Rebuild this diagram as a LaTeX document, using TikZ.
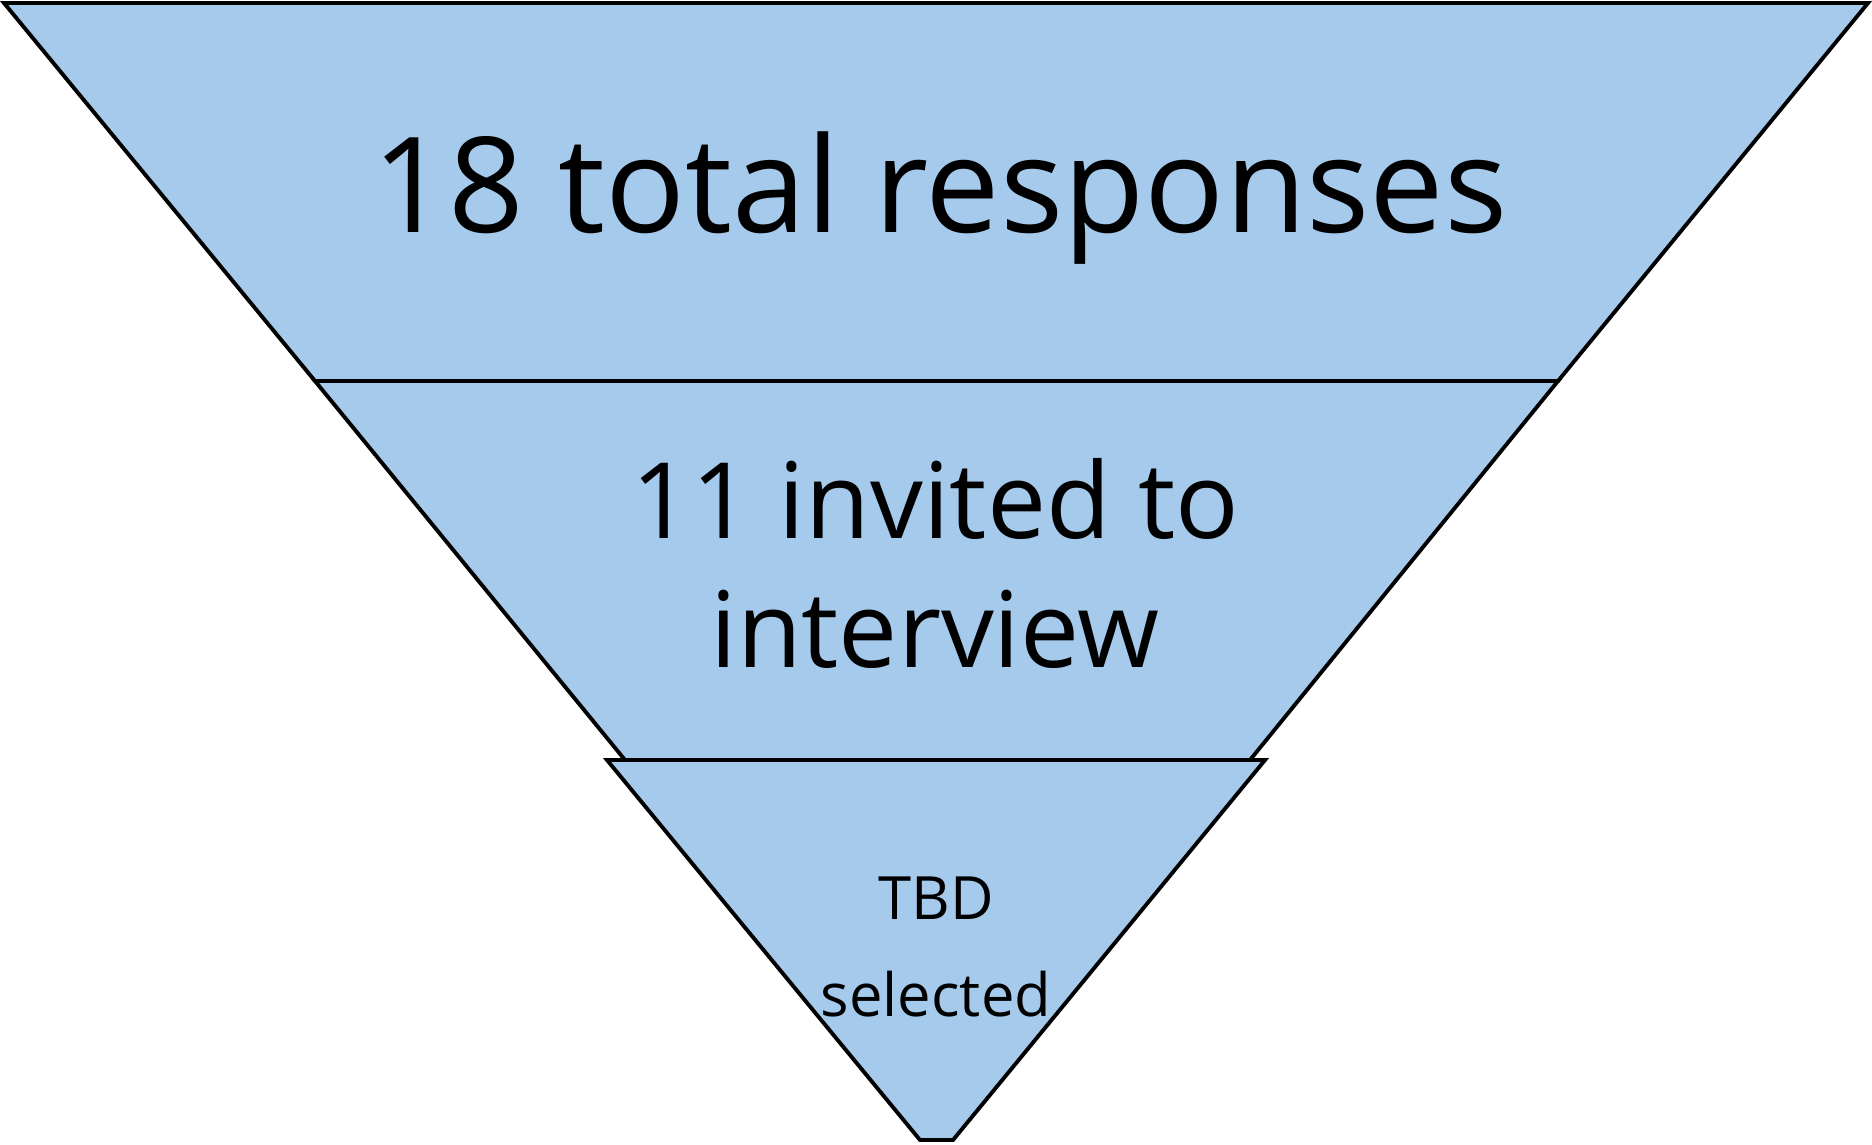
\documentclass[tikz,border=0pt]{standalone}
\usepackage{fontspec}
\setmainfont{Open Sans}
\usetikzlibrary{positioning}
\definecolor{funnelblue}{HTML}{A6CAEC}

\begin{document}
\begin{tikzpicture}[
    x=0.02cm, y=-0.02cm,
    stage/.style={draw=black, line width=2.2pt, fill=funnelblue, line join=miter},
    stagetext/.style={font=#1, align=center, inner sep=0pt}
  ]
  \useasboundingbox (0,0) rectangle (1872,1144);
  % funnel stages
  \draw[stage] (4,3) -- (1868,3) -- (1558,381) -- (315,381) -- cycle;
  \draw[stage] (315,381) -- (1558,381) -- (1250,760) -- (625,760) -- cycle;
  \draw[stage] (607,760) -- (1265,760) -- (953,1140) -- (920,1140) -- cycle;
  % labels
  \node[stagetext={\fontsize{75.5}{80}\selectfont}, anchor=base] (total) at (940,232) {18 total responses};
  \node[stagetext={\fontsize{60}{73.4}\selectfont}, anchor=base] (invited) at (935,667) {11 invited to\\interview};
  \node[stagetext={\fontsize{34}{55.2}\selectfont}, anchor=base] (tbd) at (936,1016) {TBD\\selected};
\end{tikzpicture}
\end{document}
